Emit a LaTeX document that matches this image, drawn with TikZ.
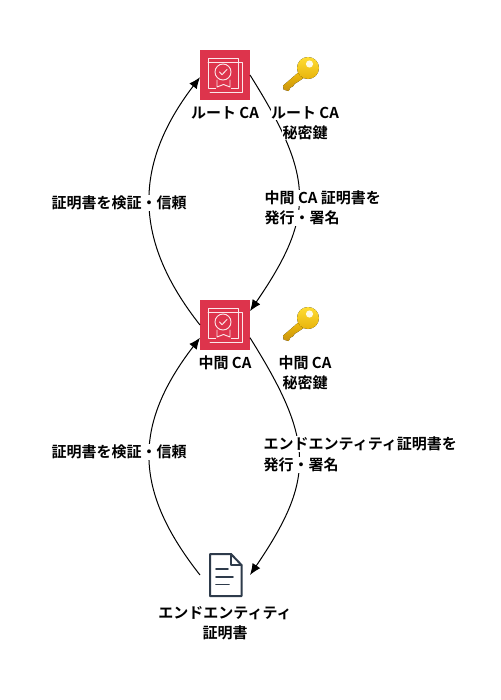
\documentclass[tikz,border=0pt]{standalone}
\usepackage{fontspec}
\setmainfont{Noto Sans CJK JP}[BoldFont={Noto Sans CJK JP Bold}]
\usetikzlibrary{arrows.meta}
\definecolor{awsred}{HTML}{DD344C}
\definecolor{docdark}{HTML}{2E3B4B}
\definecolor{goldhi}{HTML}{FFDD33}
\definecolor{goldmd}{HTML}{F2BE0C}
\definecolor{goldlo}{HTML}{C8930E}
\tikzset{
  x=0.75pt,y=-0.75pt,
  lbl/.style={font=\bfseries\fontsize{11.25pt}{13pt}\selectfont,text=black,fill=white,inner sep=0.3pt,anchor=center},
  lblw/.style={lbl,anchor=west},
  iconbox/.style={minimum size=37.5pt,inner sep=0pt,outer sep=0pt},
  cabox/.style={iconbox,fill=awsred},
  edge/.style={draw=black,line width=0.75pt,-{Latex[length=8.5pt,width=7pt]}},
  whiteln/.style={draw=white!88!awsred,line width=0.7pt,line cap=round,line join=round},
  docln/.style={draw=docdark,line width=1.5pt,line cap=round,line join=round},
}
\newcommand{\cert}[1]{%
  \begin{scope}[shift={(#1)}]
    \draw[whiteln] (-17,-17) rectangle (13,13);
    \draw[whiteln] (-17,-12.5) -- (13,-12.5);
    \draw[whiteln] (13,-13) -- (17,-13) -- (17,17) -- (-15,17);
    \fill[awsred] (-9,4) rectangle (6,14);
    \draw[whiteln] (-2,-3) circle (8);
    \draw[whiteln] (-5.5,-3) -- (-3,-0.3) -- (2,-5.5);
    \draw[whiteln] (-8,5) -- (-8,12) -- (-1.5,9.5) -- (5,12) -- (5,5);
  \end{scope}}
\newcommand{\goldkey}[1]{%
  \begin{scope}[shift={(#1)}]
    \fill[top color=goldmd,bottom color=goldlo]
      (-8.3,3.3) -- (-25,17.7) -- (-24.3,21.7) -- (-19.3,23) -- (-17.7,19.7) -- (-15,18.3) -- (-13.3,15.7) -- (-10.7,14.3) -- (-3,9) -- cycle;
    \fill[top color=goldhi,bottom color=goldmd!75!goldlo] (0,0) circle (11);
    \fill[white!88!goldhi] (1.5,-4) circle (3.6);
  \end{scope}}
\begin{document}
\begin{tikzpicture}
\useasboundingbox (0,0) rectangle (500,700);
\fill[white] (0,0) rectangle (500,700);
\node[cabox] (root) at (225,75) {};
\node[cabox] (mid) at (225,325) {};
\node[iconbox] (doc) at (225,575) {};
\cert{225,75}
\cert{225,325}
\goldkey{308,68}
\goldkey{308,318}
\draw[docln] (210,554) -- (231,554) -- (241.5,565) -- (241.5,596) -- (210,596) -- cycle;
\draw[docln] (231,554) -- (231,565) -- (241.5,565);
\draw[docln,line width=1.3pt] (216,569) -- (228,569) (216,577) -- (233,577) (216,584.5) -- (229,584.5);

\draw[edge] (root.east) .. controls (314,177) and (316,215) .. (mid.29);
\draw[edge] (mid.west) .. controls (133,240) and (133,165) .. (root.185);
\draw[edge] (mid.-27) .. controls (314,440) and (316,478) .. (doc.east);
\draw[edge] (doc.west) .. controls (133,490) and (133,425) .. (mid.207);

\node[lbl] (t1) at (225,113) {ルート CA};
\node[lbl] (t2) at (305,113) {ルート CA};
\node[lbl] (t3) at (305,133) {秘密鍵};
\node[lblw] (t4) at (264,198) {中間 CA 証明書を};
\node[lblw] (t5) at (264,218) {発行・署名};
\node[lbl] (t6) at (119,203) {証明書を検証・信頼};
\node[lbl] (t7) at (225,363) {中間 CA};
\node[lbl] (t8) at (305,363) {中間 CA};
\node[lbl] (t9) at (305,383) {秘密鍵};
\node[lblw] (t10) at (263,444) {エンドエンティティ証明書を};
\node[lblw] (t11) at (263,465) {発行・署名};
\node[lbl] (t12) at (119,452) {証明書を検証・信頼};
\node[lbl] (t13) at (225,613) {エンドエンティティ};
\node[lbl] (t14) at (225,633) {証明書};
\end{tikzpicture}
\end{document}
